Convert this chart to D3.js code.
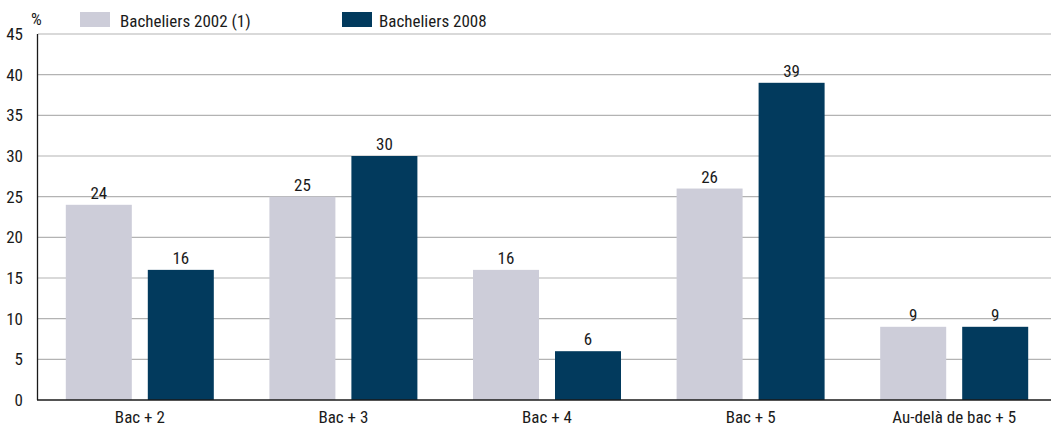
<!DOCTYPE html>
<html>
<head>
<meta charset="utf-8">
<script src="https://cdn.jsdelivr.net/npm/d3@7"></script>
<style>
  html, body { margin: 0; padding: 0; background: #fff; }
  svg text { font-family: "Liberation Sans Narrow", "Arial Narrow", "Roboto Condensed", sans-serif; fill: #1a1a1a; }
</style>
</head>
<body>
<svg id="chart" width="1051" height="426"></svg>
<script>
// Niveau de diplôme visé, en %
const categories = ["Bac + 2", "Bac + 3", "Bac + 4", "Bac + 5", "Au-delà de bac + 5"];
const seriesNames = ["Bacheliers 2002 (1)", "Bacheliers 2008"];
const values2002 = [24, 25, 16, 26, 9];
const values2008 = [16, 30, 6, 39, 9];
const yTicks = [0, 5, 10, 15, 20, 25, 30, 35, 40, 45];
const colors = ["#cdcdd9", "#023a5d"];

const svg = d3.select("#chart");
const W = 1051;
const FS = 17;

const y = d3.scaleLinear().domain([0, 45]).range([400, 34]);
const x = d3.scaleBand().domain(categories).range([38, 1056]);

const barW = 66, gap = 16;
const offsets = [-(gap / 2) - barW, gap / 2];

// horizontal gridlines
svg.append("g").selectAll("line")
  .data(yTicks.filter(d => d > 0))
  .join("line")
  .attr("x1", 38).attr("x2", W)
  .attr("y1", d => y(d)).attr("y2", d => y(d))
  .attr("stroke", "#b3b3b3").attr("stroke-width", 1.2);

// y axis labels
const yAxis = d3.axisLeft(y).tickValues(yTicks).tickSize(0).tickPadding(15);
const gy = svg.append("g").attr("transform", "translate(38,0)").call(yAxis);
gy.select(".domain").remove();
gy.selectAll("text").attr("font-size", FS).style("font-family", null);

// bars and value labels
const series = [values2002, values2008];
series.forEach((vals, si) => {
  const g = svg.append("g");
  g.selectAll("rect")
    .data(vals)
    .join("rect")
    .attr("x", (d, i) => x(categories[i]) + x.bandwidth() / 2 + offsets[si])
    .attr("y", d => y(d))
    .attr("width", barW)
    .attr("height", d => y(0) - y(d))
    .attr("fill", colors[si]);
  g.selectAll("text")
    .data(vals)
    .join("text")
    .attr("x", (d, i) => x(categories[i]) + x.bandwidth() / 2 + offsets[si] + barW / 2)
    .attr("y", d => y(d) - 6)
    .attr("text-anchor", "middle")
    .attr("font-size", FS)
    .text(d => d);
});

// axis lines
svg.append("line").attr("x1", 37.5).attr("x2", 37.5).attr("y1", 34).attr("y2", 400)
  .attr("stroke", "#1a1a1a").attr("stroke-width", 1.3);
svg.append("line").attr("x1", 37).attr("x2", W).attr("y1", 400).attr("y2", 400)
  .attr("stroke", "#1a1a1a").attr("stroke-width", 1.3);

// category labels
const xAxis = d3.axisBottom(x).tickSize(0).tickPadding(11);
const gx = svg.append("g").attr("transform", "translate(0,400)").call(xAxis);
gx.select(".domain").remove();
gx.selectAll("text").attr("font-size", FS).style("font-family", null);

// unit
svg.append("text").attr("x", 31).attr("y", 25).attr("font-size", FS).text("%");

// legend
const legendX = [80, 342];
const legendTextX = [120, 379];
seriesNames.forEach((name, i) => {
  svg.append("rect").attr("x", legendX[i]).attr("y", 12).attr("width", 30).attr("height", 15).attr("fill", colors[i]);
  svg.append("text").attr("x", legendTextX[i]).attr("y", 27).attr("font-size", FS).text(name);
});
</script>
</body>
</html>
